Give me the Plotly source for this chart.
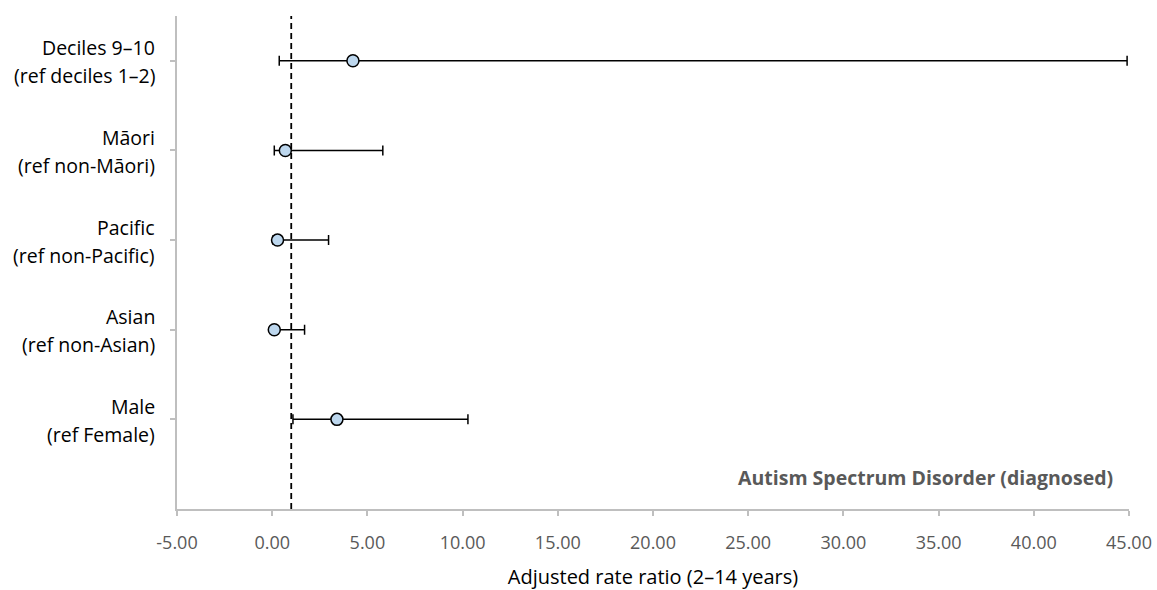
import plotly.graph_objects as go

# Groups (top to bottom): two-line labels, adjusted rate ratios and 95% CIs
label_main = ["Deciles 9–10", "Māori", "Pacific", "Asian", "Male"]
label_ref = ["(ref deciles 1–2)", "(ref non-Māori)", "(ref non-Pacific)",
             "(ref non-Asian)", "(ref Female)"]
ratio = [4.24, 0.69, 0.28, 0.11, 3.40]
ci_low = [0.37, 0.11, 0.05, 0.02, 1.09]
ci_high = [44.9, 5.81, 2.96, 1.70, 10.28]
y_pos = [5, 4, 3, 2, 1]

x_ticks = [-5, 0, 5, 10, 15, 20, 25, 30, 35, 40, 45]
x_tick_text = [f"{v:.2f}" for v in x_ticks]

FONT = "Open Sans"
M_L, M_R, M_T, M_B = 177, 28, 16, 81
W, H = 1157, 590

fig = go.Figure()
fig.add_trace(go.Scatter(
    x=ratio, y=y_pos, mode="markers",
    marker=dict(size=12, color="#BDD7EE", line=dict(color="black", width=1.5)),
    error_x=dict(type="data", symmetric=False,
                 array=[h - r for h, r in zip(ci_high, ratio)],
                 arrayminus=[r - l for r, l in zip(ratio, ci_low)],
                 color="black", thickness=1.5, width=5),
    showlegend=False, cliponaxis=False,
))

# Reference line at a rate ratio of 1
fig.add_shape(type="line", x0=1, x1=1, y0=0, y1=5.5, xref="x", yref="y",
              line=dict(color="black", width=1.8, dash="6px,4px"))

# Category labels, drawn line by line for tighter control of spacing
for yp, main, ref in zip(y_pos, label_main, label_ref):
    for txt, shift in ((main, 13), (ref, -15)):
        fig.add_annotation(x=0, y=yp, xref="paper", yref="y", text=txt,
                           showarrow=False, xanchor="right", yanchor="middle",
                           xshift=-20, yshift=shift,
                           font=dict(family=FONT, size=19.5, color="#000000"))

plot_w = W - M_L - M_R
plot_h = H - M_T - M_B
fig.add_annotation(x=(1115 - M_L) / plot_w, y=(H - M_B - 477) / plot_h,
                   xref="paper", yref="paper",
                   text="<b>Autism Spectrum Disorder (diagnosed)</b>",
                   showarrow=False, xanchor="right", yanchor="middle",
                   font=dict(family=FONT, size=19.5, color="#595959"))

fig.update_layout(
    width=W, height=H,
    margin=dict(l=M_L, r=M_R, t=M_T, b=M_B, autoexpand=False),
    paper_bgcolor="white", plot_bgcolor="white",
    font=dict(family=FONT, size=18, color="#000000"),
    xaxis=dict(range=[-5, 45], tickvals=x_ticks, ticktext=x_tick_text,
               automargin=False,
               showgrid=False, zeroline=False, showline=True,
               linecolor="#BFBFBF", linewidth=1.5,
               ticks="outside", ticklen=5, tickcolor="#BFBFBF", tickwidth=1.5,
               ticklabelstandoff=12,
               tickfont=dict(family=FONT, size=18, color="#595959"),
               title=dict(text="Adjusted rate ratio (2–14 years)",
                          font=dict(family=FONT, size=20, color="#000000"),
                          standoff=18)),
    yaxis=dict(range=[0, 5.5], tickvals=y_pos, ticktext=[""] * len(y_pos),
               automargin=False,
               showgrid=False, zeroline=False, showline=True,
               linecolor="#BFBFBF", linewidth=1.5,
               ticks="outside", ticklen=5, tickcolor="#BFBFBF", tickwidth=1.5),
)

fig.write_html("out.html")
